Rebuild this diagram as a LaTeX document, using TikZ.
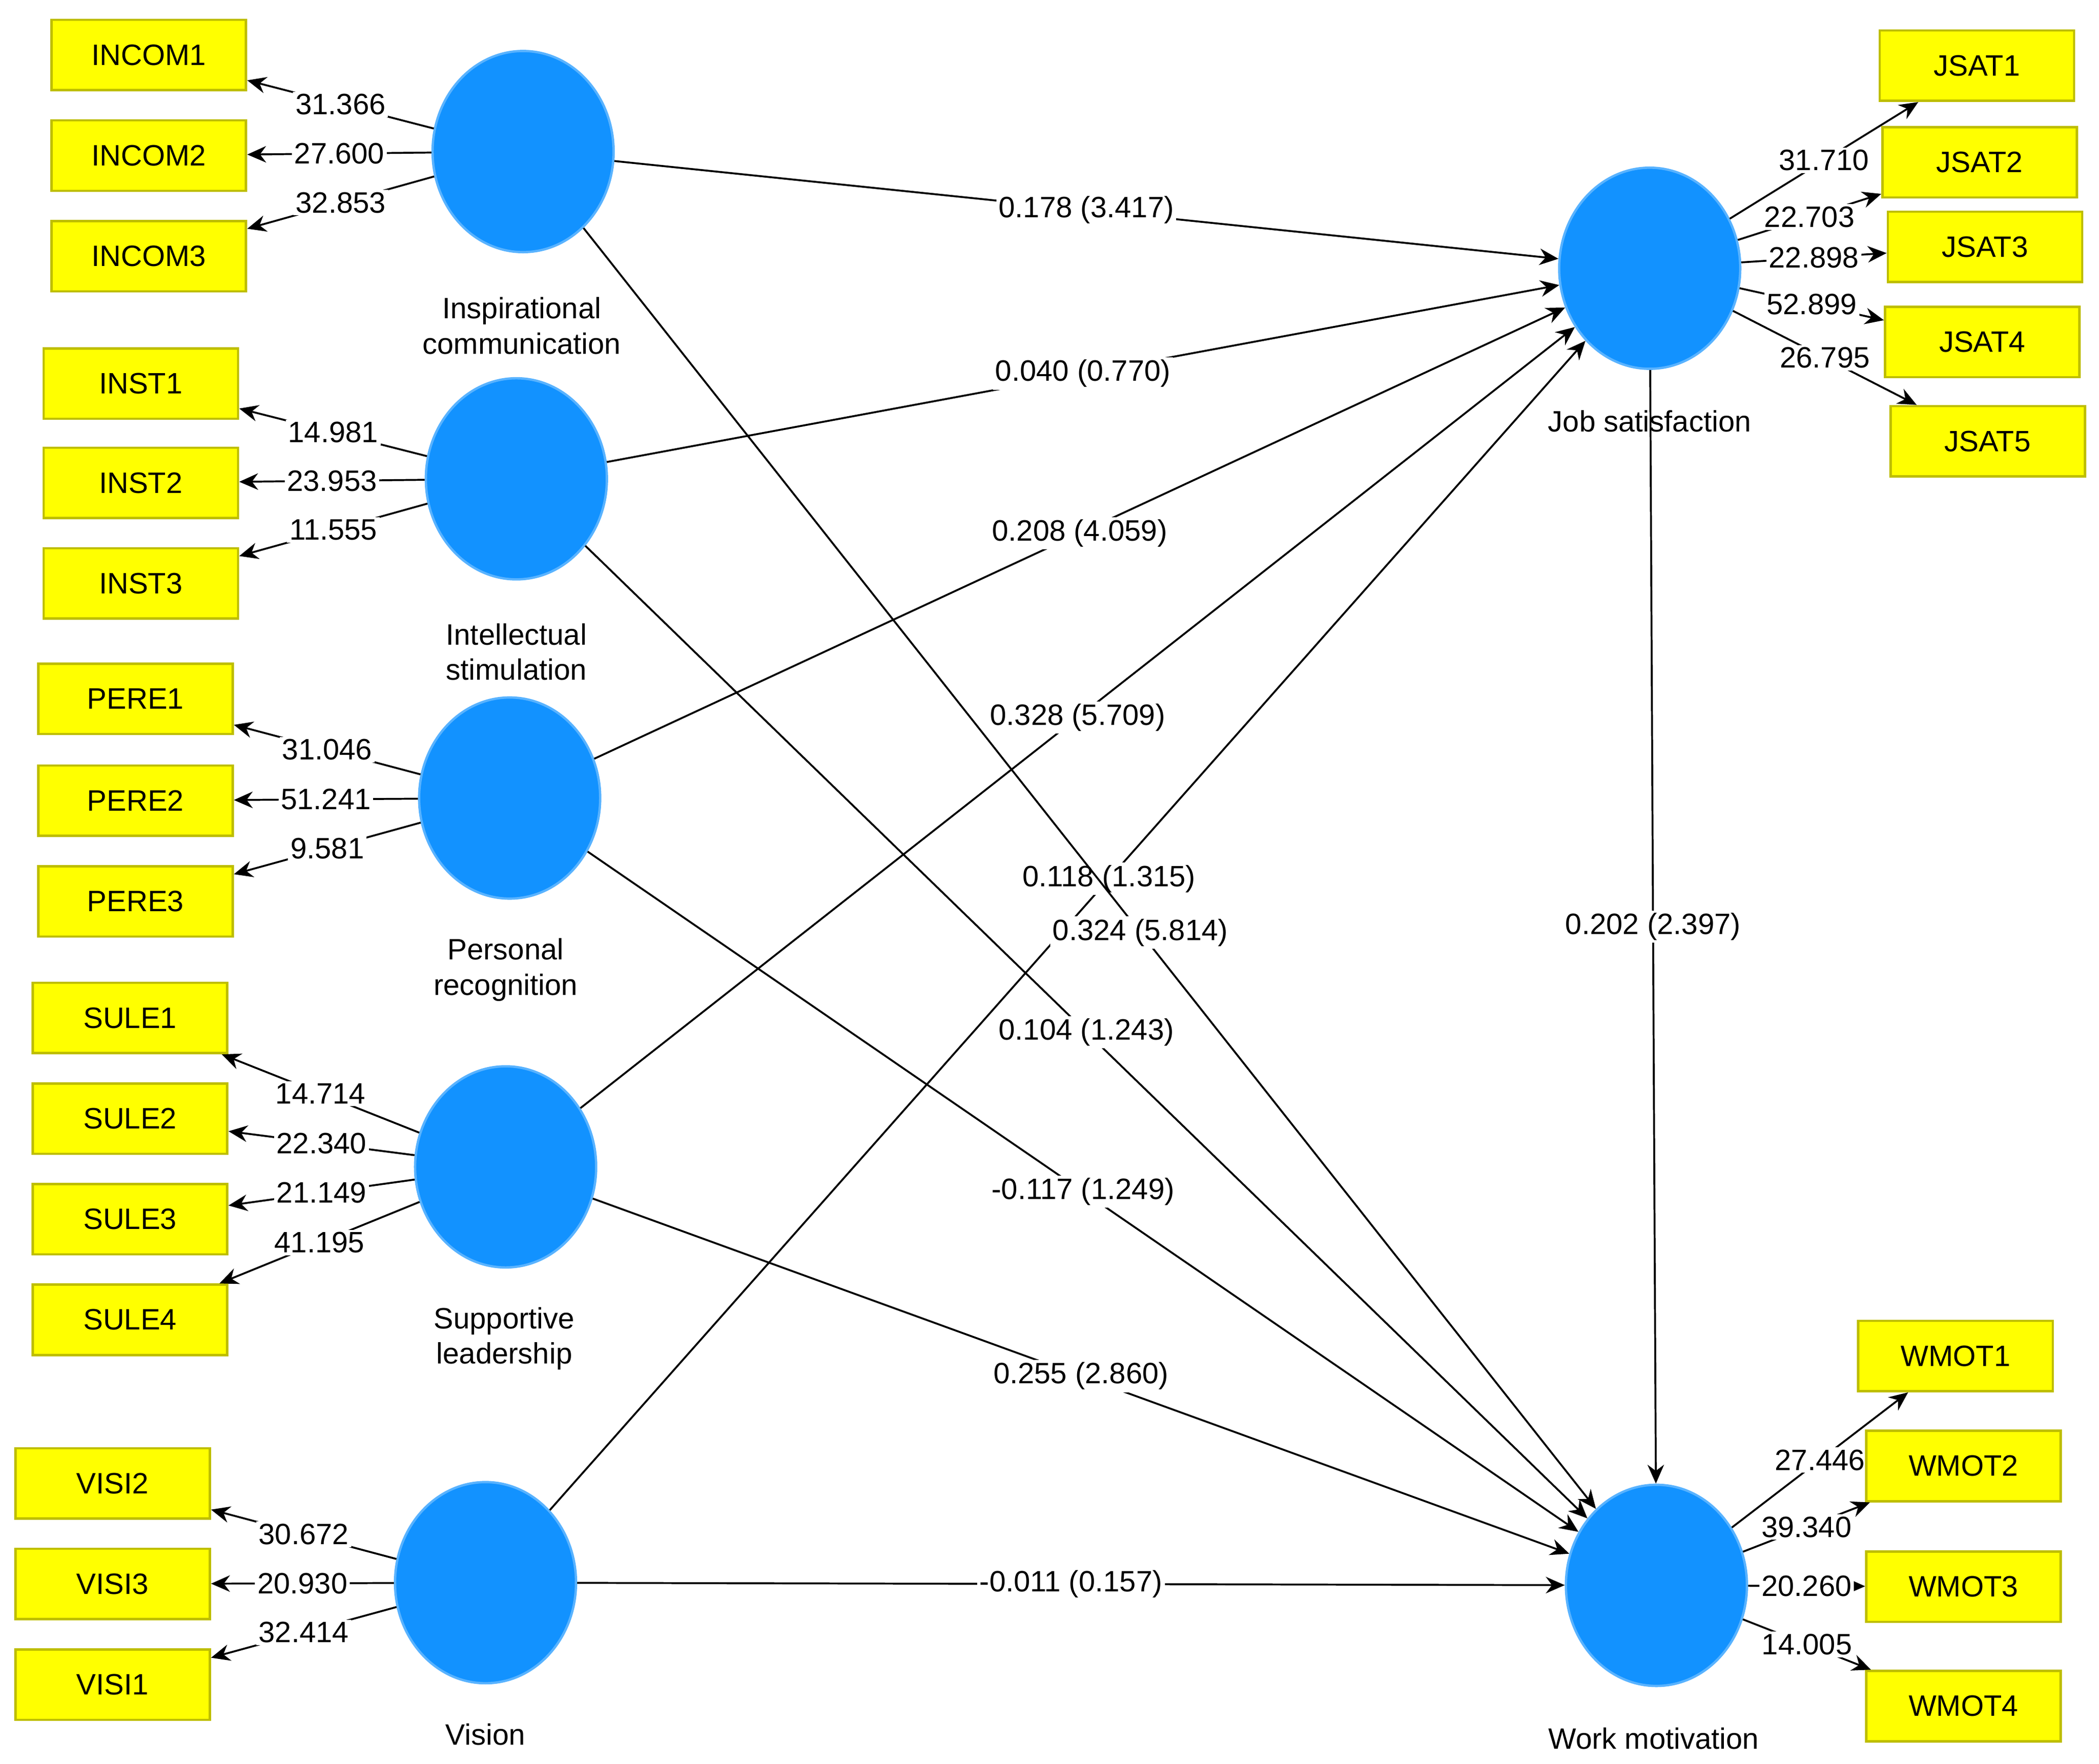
\documentclass[tikz,border=0pt]{standalone}
\usepackage{fontspec}
\setmainfont{Liberation Sans}
\usetikzlibrary{arrows.meta,shapes.geometric}
\definecolor{lvblue}{RGB}{18,146,255}
\definecolor{boxyel}{RGB}{255,255,0}
\definecolor{boxedge}{RGB}{190,190,0}
\tikzset{
  latent/.style={ellipse, fill=lvblue, draw=lvblue!70!white, line width=1pt, minimum width=2.7cm, minimum height=3.0cm},
  ind/.style={rectangle, fill=boxyel, draw=boxedge, line width=1pt, minimum width=2.9cm, minimum height=1.05cm},
  lvlabel/.style={align=center},
  path/.style={-{Stealth[length=8pt,width=7pt]}, line width=0.8pt},
  coef/.style={fill=white, inner sep=1pt, pos=0.5},
}
\begin{document}
\begin{tikzpicture}[x=0.02cm, y=-0.02cm, font=\fontsize{12.5}{15}\selectfont]
\useasboundingbox (0,0) rectangle (1565,1315);
% latent variables
\node[latent] (ic) at (390,113) {};
\node[latent] (is) at (385,357) {};
\node[latent] (pr) at (380,595) {};
\node[latent] (sl) at (377,870) {};
\node[latent] (vi) at (362,1180) {};
\node[latent] (js) at (1230,200) {};
\node[latent] (wm) at (1235,1182) {};
\node[lvlabel] at (389,243) {Inspirational\\communication};
\node[lvlabel] at (385,486) {Intellectual\\stimulation};
\node[lvlabel] at (377,723) {Personal\\recognition};
\node[lvlabel] at (376,998) {Supportive\\leadership};
\node[lvlabel] at (362,1293) {Vision};
\node[lvlabel] at (1230,314) {Job satisfaction};
\node[lvlabel] at (1233,1296) {Work motivation};
% indicators
\foreach \name/\x/\y/\lv/\val in {
  INCOM1/111/41/ic/31.366, INCOM2/111/116/ic/27.600, INCOM3/111/191/ic/32.853,
  INST1/105/286/is/14.981, INST2/105/360/is/23.953, INST3/105/435/is/11.555,
  PERE1/101/521/pr/31.046, PERE2/101/597/pr/51.241, PERE3/101/672/pr/9.581,
  SULE1/97/759/sl/14.714, SULE2/97/834/sl/22.340, SULE3/97/909/sl/21.149, SULE4/97/984/sl/41.195,
  VISI2/84/1106/vi/30.672, VISI3/84/1181/vi/20.930, VISI1/84/1256/vi/32.414,
  JSAT1/1474/49/js/31.710, JSAT2/1476/121/js/22.703, JSAT3/1480/184/js/22.898,
  JSAT4/1478/255/js/52.899, JSAT5/1482/329/js/26.795,
  WMOT1/1458/1011/wm/27.446, WMOT2/1464/1093/wm/39.340, WMOT3/1464/1183/wm/20.260,
  WMOT4/1464/1272/wm/14.005}{
  \node[ind] (\name) at (\x,\y) {\name};
  \draw[path] (\lv) -- node[coef] {\val} (\name);
}
% structural paths
\draw[path] (ic) -- node[coef] {0.178 (3.417)} (js);
\draw[path] (is) -- node[coef] {0.040 (0.770)} (js);
\draw[path] (pr) -- node[coef] {0.208 (4.059)} (js);
\draw[path] (sl) -- node[coef] {0.328 (5.709)} (js);
\draw[path] (vi) -- node[coef, pos=0.54] {0.118 (1.315)} (js);
\draw[path] (ic) -- node[coef, pos=0.55] {0.324 (5.814)} (wm);
\draw[path] (is) -- node[coef] {0.104 (1.243)} (wm);
\draw[path] (pr) -- node[coef] {-0.117 (1.249)} (wm);
\draw[path] (sl) -- node[coef] {0.255 (2.860)} (wm);
\draw[path] (vi) -- node[coef] {-0.011 (0.157)} (wm);
\draw[path] (js) -- node[coef] {0.202 (2.397)} (wm);
\end{tikzpicture}
\end{document}
